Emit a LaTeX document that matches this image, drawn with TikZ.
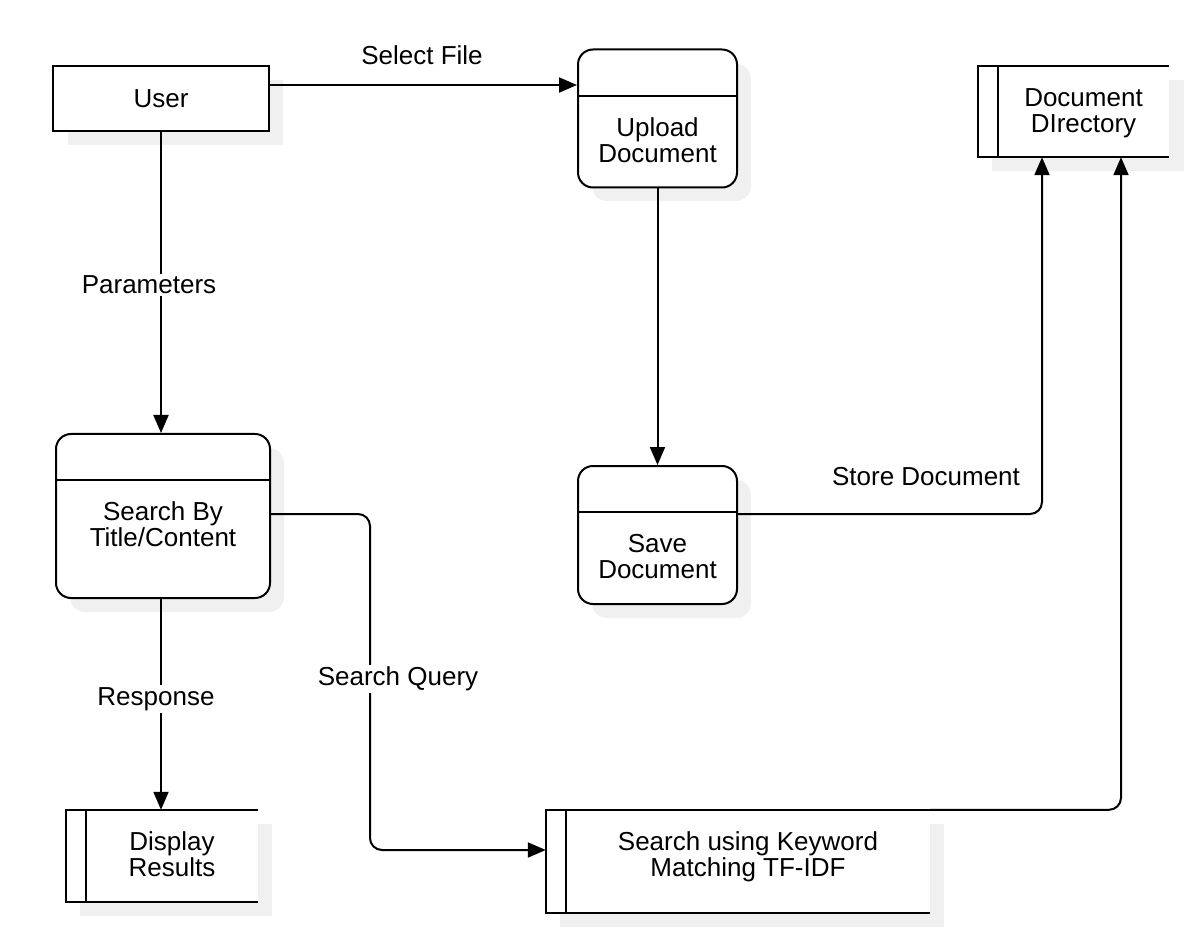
\documentclass[tikz,border=0pt]{standalone}
\usepackage{fontspec}
\setmainfont{Liberation Sans}
\usetikzlibrary{arrows.meta}

\tikzset{
    proc/.style={draw, line width=2pt, rounded corners=15pt, minimum width=#1, inner sep=0pt},
    box/.style={draw, line width=2pt, inner sep=0pt},
    store/.style={fill=white, inner sep=0pt},
    txt/.style={align=center, inner sep=0pt, font=\fontsize{26}{26}\selectfont},
    lbl/.style={txt, fill=white, inner sep=2pt},
    flow/.style={line width=2pt, -{Triangle[width=15pt,length=18pt]}},
    shade/.style={fill=gray!12, draw=none},
}

\begin{document}
\begin{tikzpicture}[x=1pt,y=-1pt]
    \useasboundingbox (0,0) rectangle (1187,933);
    % shadows
    \fill[shade] (68,80) rectangle (283,145);
    \fill[shade, rounded corners=15pt] (592,64) rectangle (751,201);
    \fill[shade] (992,80) rectangle (1184,171);
    \fill[shade, rounded corners=15pt] (70,448) rectangle (284,612);
    \fill[shade, rounded corners=15pt] (592,480) rectangle (751,618);
    \fill[shade] (80,824) rectangle (272,916);
    \fill[shade] (560,824) rectangle (944,927);

    % nodes
    \node[box, fill=white, minimum width=216pt, minimum height=65pt] (user) at (161,98.5) {};
    \node[txt] (user-t) at (user) {User};
    \foreach \n/\cx/\cy/\w/\h/\d in {upload/657.5/118.5/159/138/96, save/657.5/535/159/138/512, search/163/516/214/164/480}{
        \node[proc=\w pt, fill=white, minimum height=\h pt] (\n) at (\cx,\cy) {};
        \draw[line width=2pt] (\n.west |- 0,\d) -- (\n.east |- 0,\d);
    }
    \node[txt] (upload-t) at (657.5,140) {Upload\\Document};
    \node[txt] (save-t) at (657.5,557) {Save\\Document};
    \node[txt] (search-t) at (163,524) {Search By\\Title/Content};

    \foreach \n/\cx/\cy/\w/\h in {dir/1073.5/111.5/191/91, disp/162/856/192/92, kw/738/861.5/384/103}{
        \node[store, minimum width=\w pt, minimum height=\h pt] (\n) at (\cx,\cy) {};
        \draw[line width=2pt] (\n.north east) -- (\n.north west) -- (\n.south west) -- (\n.south east);
        \draw[line width=2pt] ([xshift=20pt]\n.north west) -- ([xshift=20pt]\n.south west);
    }
    \node[txt] (dir-t) at (1083.5,113) {Document\\DIrectory};
    \node[txt] (disp-t) at (172,854) {Display\\Results};
    \node[txt] (kw-t) at (748,857) {Search using Keyword\\Matching TF-IDF};

    % connectors
    \draw[flow] (user.east |- 0,85) -- (upload.west |- 0,85);
    \draw[flow] (user.south) -- (user.south |- search.north);
    \draw[flow] (upload.south) -- (save.north);
    \draw[flow, rounded corners=12pt] (save.east |- 0,514) -| ([xshift=-31.5pt]dir.south);
    \draw[flow, rounded corners=12pt] (kw.north east) -| ([xshift=47.5pt]dir.south);
    \draw[flow, rounded corners=12pt] (search.east |- 0,514) -- (370,514) -- (370,850) -- (kw.west |- 0,850);
    \draw[flow] (disp.north -| user.south) ++(0,-212) -- (disp.north -| user.south);

    % labels
    \node[txt] (l-sel) at (422,55) {Select File};
    \node[lbl] (l-par) at (149,285) {Parameters};
    \node[txt] (l-store) at (926,477) {Store Document};
    \node[lbl] (l-qry) at (398,679) {Search Query};
    \node[lbl] (l-resp) at (156,699) {Response};
\end{tikzpicture}
\end{document}
